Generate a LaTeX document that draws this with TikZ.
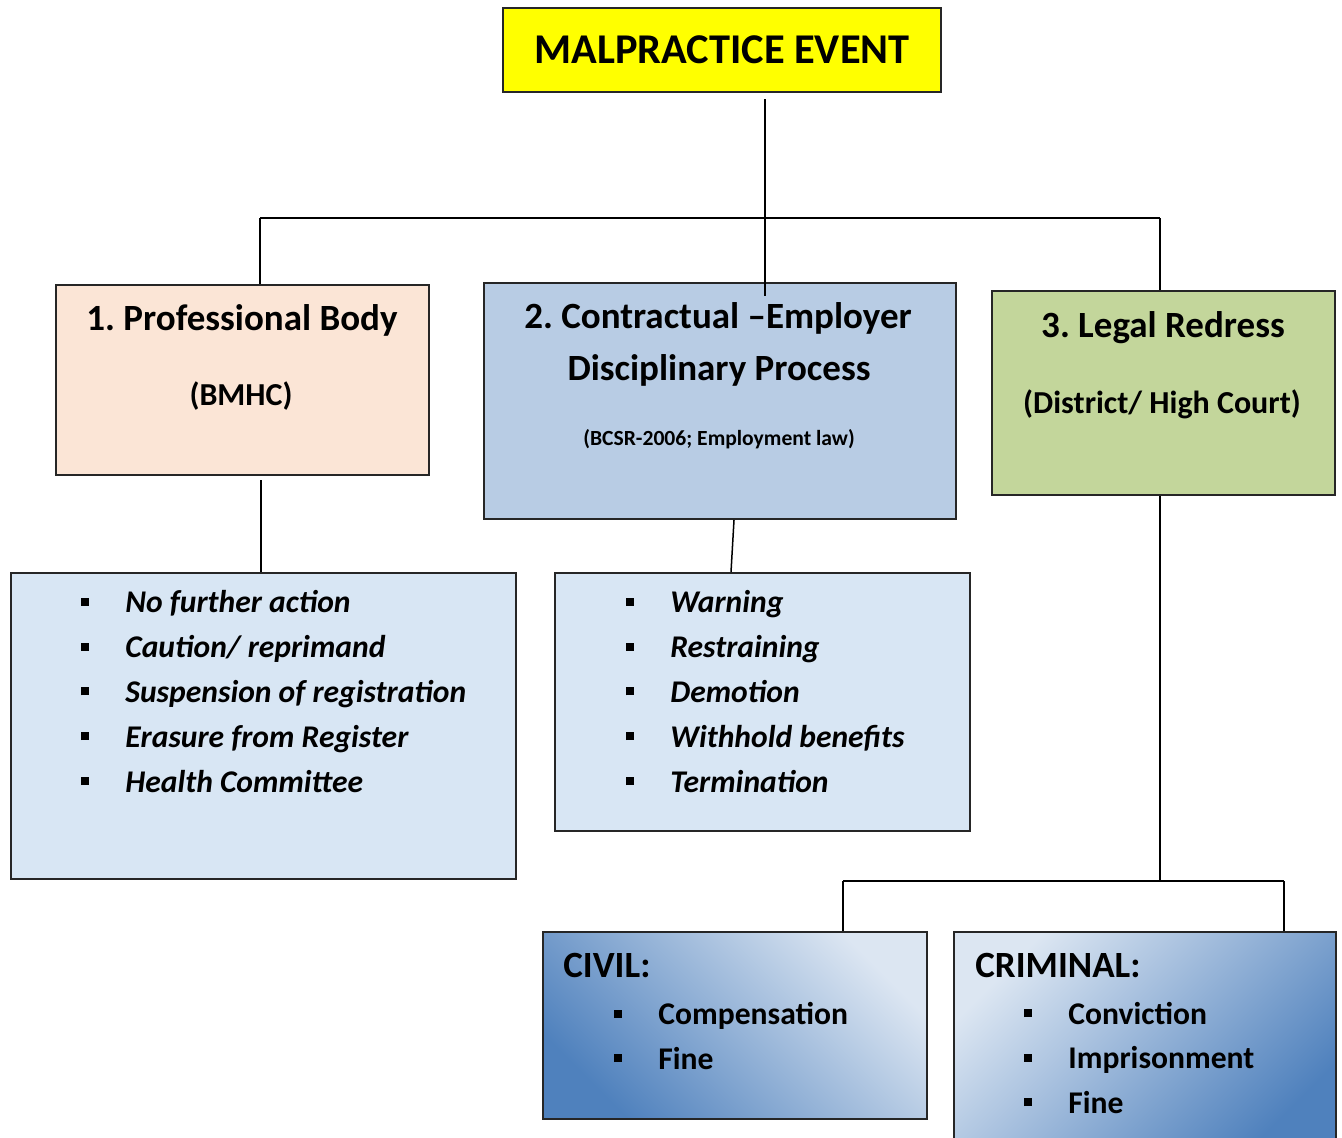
\documentclass[tikz,border=0pt]{standalone}
\usepackage{fontspec}
\setmainfont{Carlito}
\usetikzlibrary{positioning, calc}
\frenchspacing

\definecolor{eventyellow}{HTML}{FFFF00}
\definecolor{profpeach}{HTML}{FBE5D6}
\definecolor{contractblue}{HTML}{B8CCE4}
\definecolor{legalgreen}{HTML}{C3D69B}
\definecolor{actsblue}{HTML}{D8E6F4}
\definecolor{courtlight}{HTML}{DCE6F2}
\definecolor{courtdark}{HTML}{4F81BD}
\definecolor{boxline}{HTML}{262626}

\newcommand{\sqbullet}{\makebox[22pt][l]{\raisebox{3.5pt}{\rule{4pt}{4pt}}}}

\begin{document}
\begin{tikzpicture}[
  x=0.5pt, y=-0.5pt,
  every node/.style={inner sep=0pt},
  box/.style={rectangle, draw=boxline, line width=1pt, anchor=north west},
  head/.style={anchor=base, font=\fontsize{18.5pt}{21pt}\selectfont\bfseries},
  sub/.style={anchor=base, font=\fontsize{16pt}{19pt}\selectfont\bfseries},
  acts/.style={anchor=base west, align=left, font=\fontsize{15.8pt}{22.4pt}\selectfont\bfseries\itshape},
  court/.style={anchor=base west, align=left, font=\fontsize{15.8pt}{22.2pt}\selectfont\bfseries},
  courthead/.style={anchor=base west, font=\fontsize{18.5pt}{21pt}\selectfont\bfseries},
  link/.style={draw=black, line width=0.75pt}
]
\useasboundingbox (0,0) rectangle (1342,1137);

% top of the tree
\node[box, fill=eventyellow, minimum width=219pt, minimum height=42pt,
  font=\fontsize{21.2pt}{25pt}\selectfont\bfseries] (event) at (502,7) {MALPRACTICE EVENT};

% three routes
\node[box, fill=profpeach, minimum width=186.5pt, minimum height=95pt] (prof) at (55,284) {};
\node[box, fill=contractblue, minimum width=236pt, minimum height=118pt] (contract) at (483,282) {};
\node[box, fill=legalgreen, minimum width=171.5pt, minimum height=102pt] (legal) at (991,290) {};

\node[head] (proftitle) at (242,330) {1. Professional Body};
\node[sub]  (profsub) at (241,405) {(BMHC)};
\node[head] (contitle) at (718,328) {2. Contractual –Employer};
\node[head] (contitleb) at (719,380) {Disciplinary Process};
\node[anchor=base, font=\fontsize{10.8pt}{13pt}\selectfont\bfseries] (consub) at (719,445) {(BCSR-2006; Employment law)};
\node[head] (legtitle) at (1163,337) {3. Legal Redress};
\node[sub]  (legsub) at (1162,413) {(District/ High Court)};

% outcomes
\node[box, fill=actsblue, minimum width=252.5pt, minimum height=153pt] (profacts) at (10,572) {};
\node[acts] (proflist) at (81,792) {\sqbullet No further action\\
  \sqbullet Caution/ reprimand\\
  \sqbullet Suspension of registration\\
  \sqbullet Erasure from Register\\
  \sqbullet Health Committee};

\node[box, fill=actsblue, minimum width=207.5pt, minimum height=129pt] (conacts) at (554,572) {};
\node[acts] (conlist) at (626,792) {\sqbullet Warning\\
  \sqbullet Restraining\\
  \sqbullet Demotion\\
  \sqbullet Withhold benefits\\
  \sqbullet Termination};

% courts
\node[box, top color=courtlight, bottom color=courtdark, shading angle=-45,
  minimum width=192pt, minimum height=93.5pt] (civil) at (542,931) {};
\node[box, top color=courtlight, bottom color=courtdark, shading angle=45,
  minimum width=191pt, minimum height=110pt] (criminal) at (953,931) {};

\node[courthead] (civhead) at (563,977) {CIVIL:};
\node[court] (civlist) at (614,1069) {\sqbullet Compensation\\
  \sqbullet Fine};
\node[courthead] (crimhead) at (975,977) {CRIMINAL:};
\node[court] (crimlist) at (1024,1113) {\sqbullet Conviction\\
  \sqbullet Imprisonment\\
  \sqbullet Fine};

% connectors
\coordinate (busL) at (260,218);
\coordinate (busR) at (1160,218);
\coordinate (forkL) at (843,881);
\coordinate (forkR) at (1284,881);
\coordinate (forkM) at (1160,881);

\draw[link] ([xshift=21.5pt,yshift=-3pt]event.south) -- ([xshift=22.5pt,yshift=-7pt]contract.north);
\draw[link] (busL) -- (busR);
\draw[link] (busL) -- (busL |- prof.north);
\draw[link] (busR) -- (busR |- legal.north);
\draw[link] ([xshift=9.25pt,yshift=-2pt]prof.south) -- ([xshift=9.25pt]prof.south |- profacts.north);
\draw[link] ([xshift=7pt]contract.south) -- ([xshift=-15.75pt]conacts.north);
\draw[link] (forkM |- legal.south) -- (forkM);
\draw[link] (forkL) -- (forkR);
\draw[link] (forkL) -- (forkL |- civil.north);
\draw[link] (forkR) -- (forkR |- criminal.north);
\end{tikzpicture}
\end{document}
